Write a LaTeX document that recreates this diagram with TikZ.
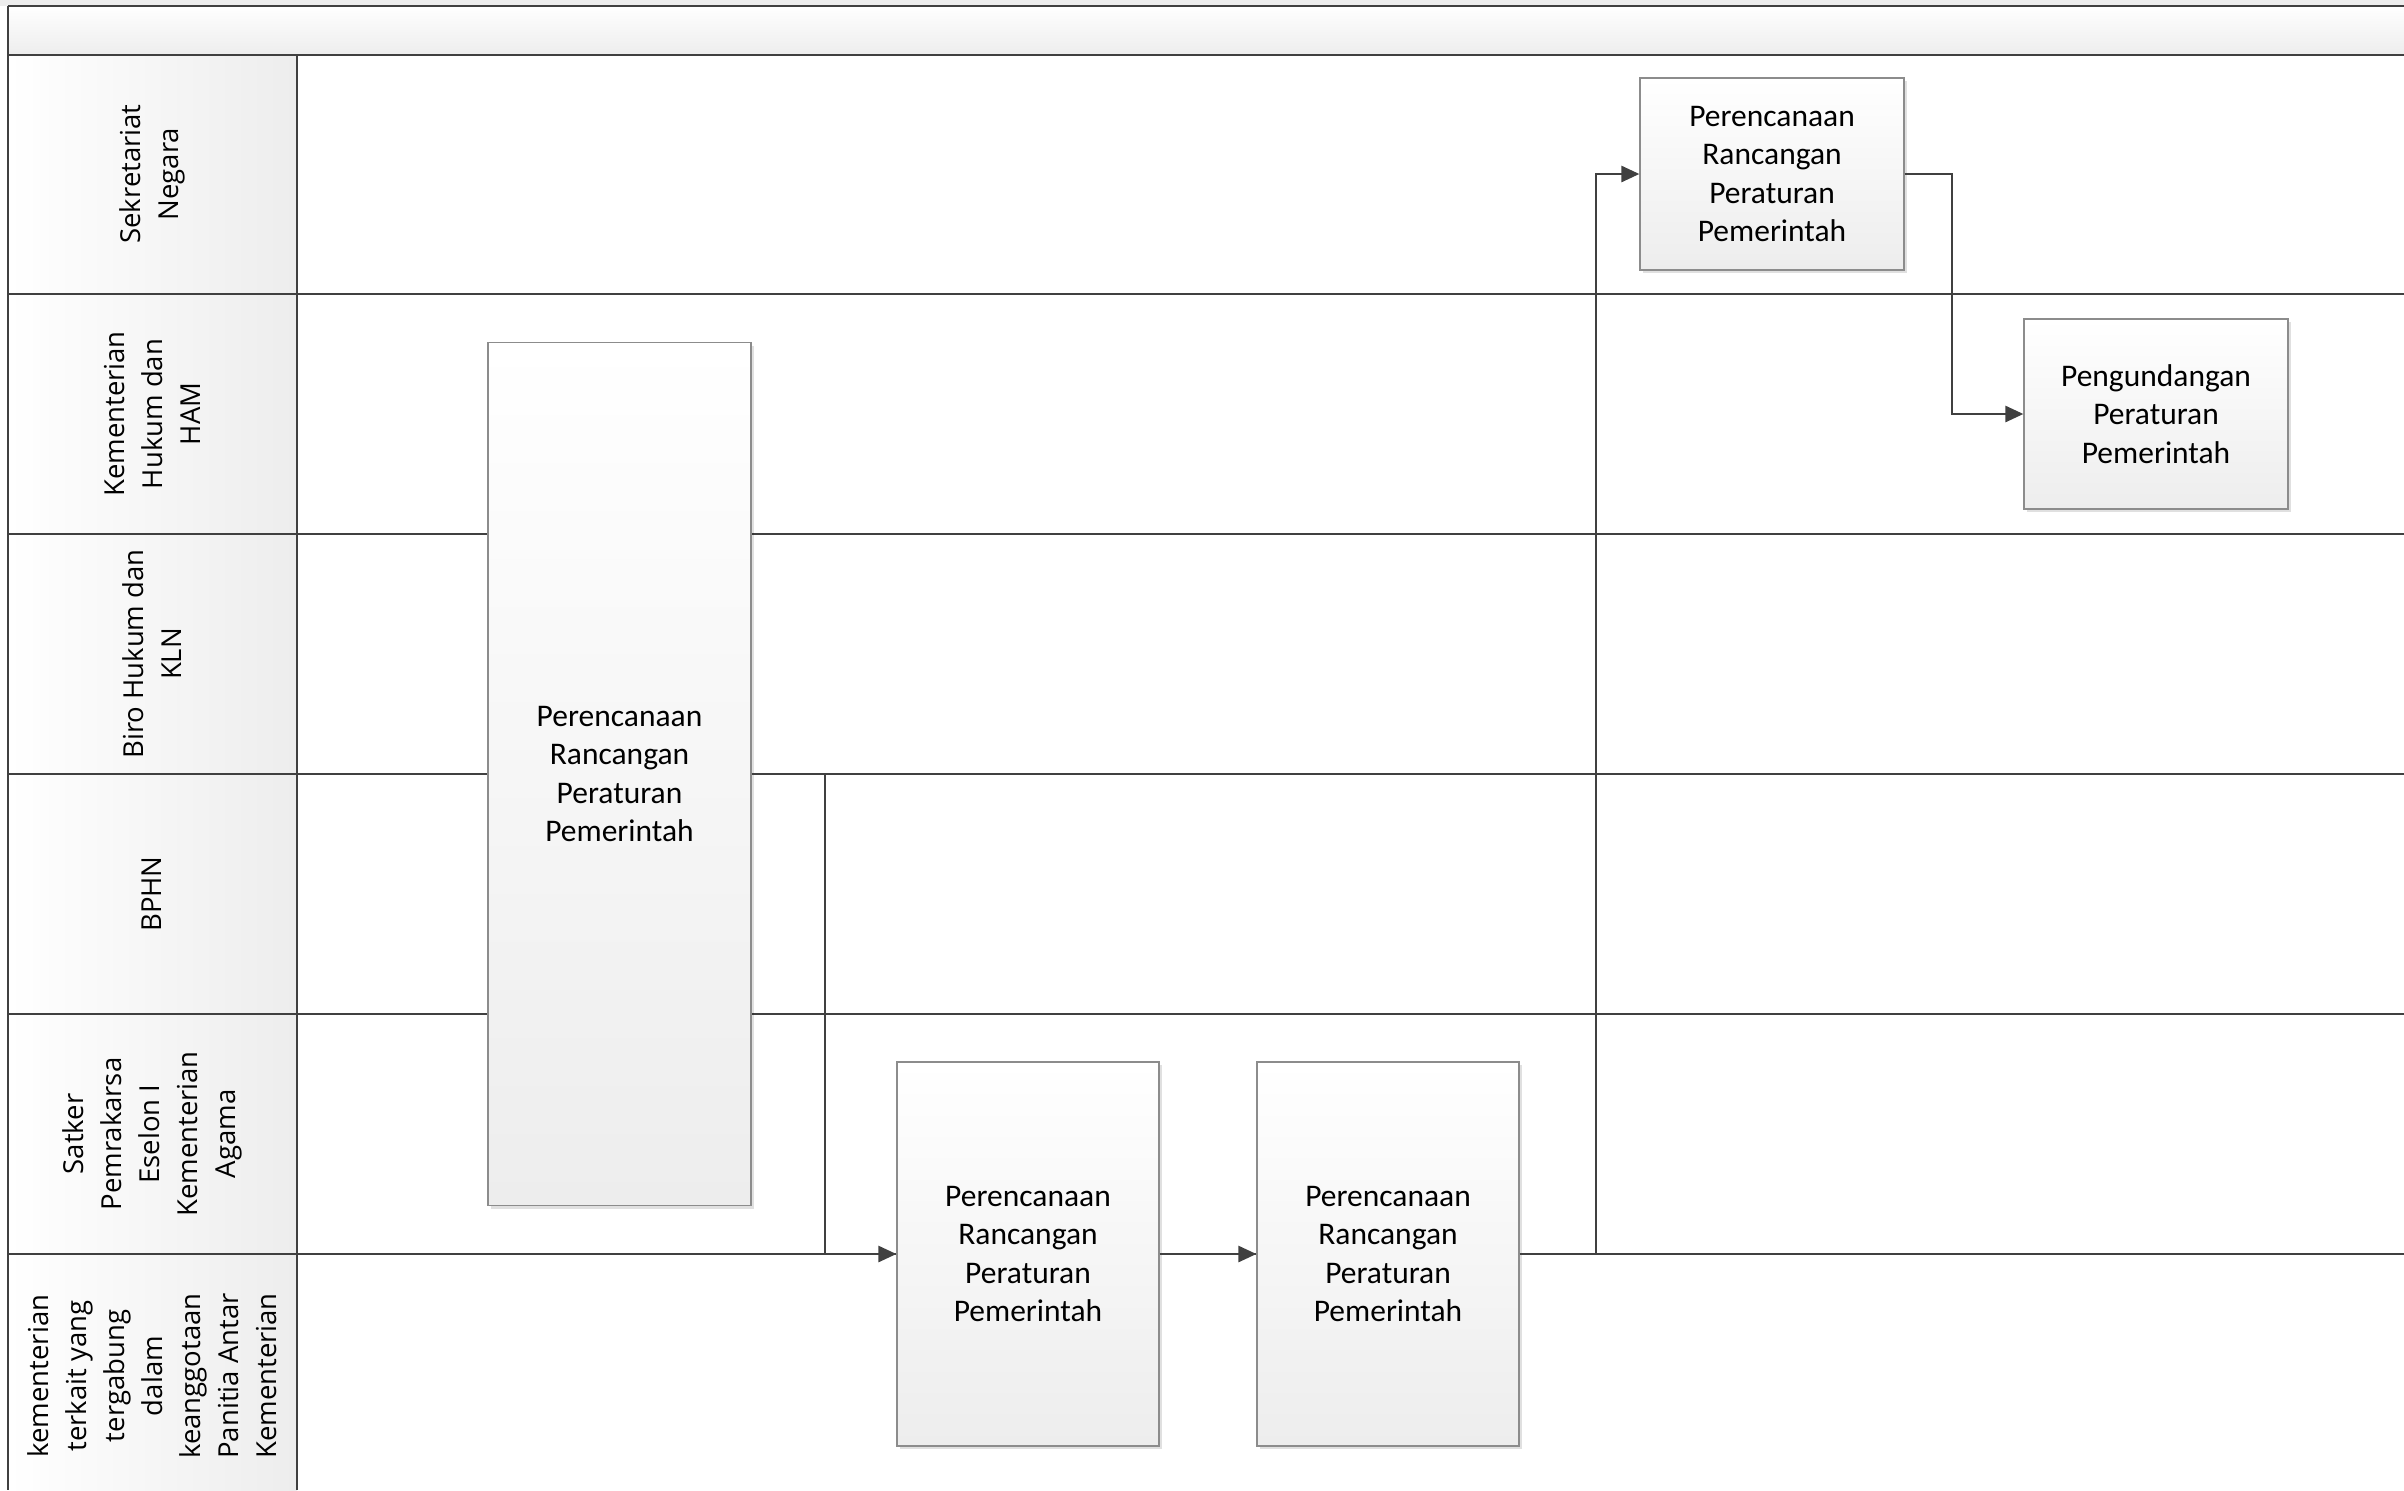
\documentclass[tikz,border=0pt]{standalone}
\usepackage{fontspec}
\newfontfamily\lanefont{Open Sans}
\newfontfamily\boxfont{Carlito}
\usetikzlibrary{arrows.meta,shadows}
\definecolor{linec}{HTML}{404040}
\definecolor{boxb}{HTML}{8C8C8C}
\definecolor{fillg}{HTML}{EDEDED}
\begin{document}
\begin{tikzpicture}[x=0.5pt,y=-0.5pt,
  lane/.style={draw=linec,line width=1.1pt},
  lanelabel/.style={rotate=90,align=center,font=\lanefont\fontsize{13.75pt}{19pt}\selectfont,text=black,inner sep=0pt},
  proc/.style={draw=boxb,line width=0.6pt,top color=white,bottom color=fillg,align=center,
    font=\boxfont\fontsize{15.75pt}{19.2pt}\selectfont,inner sep=0pt,
    drop shadow={shadow xshift=1.5pt,shadow yshift=-1.5pt,fill=black,opacity=0.12}},
  conn/.style={draw=linec,line width=1.3pt,-{Triangle[length=9pt,width=8pt]}}
]
\useasboundingbox (0,0) rectangle (2404,1490);
% backgrounds
\fill[fillg] (0,0) rectangle (2404,6);
\fill[top color=white,bottom color=fillg] (8,6) rectangle (2404,55);
\fill[left color=white,right color=fillg] (8,55) rectangle (297,1490);
% frame and lanes
\draw[lane] (8,6) -- (2404,6);
\draw[lane] (8,6) -- (8,1490);
\draw[lane] (297,55) -- (297,1490);
\foreach \yy in {55,294,534,774,1014,1254}{
  \draw[lane] (8,\yy) -- (2404,\yy);
}
% lane labels
\node[lanelabel] (L1) at (152,174) {Sekretariat\\Negara};
\node[lanelabel] (L2) at (152,414) {Kementerian\\Hukum dan\\HAM};
\node[lanelabel] (L3) at (152,654) {Biro Hukum dan\\KLN};
\node[lanelabel] (L4) at (152,894) {BPHN};
\node[lanelabel] (L5) at (152,1134) {Satker\\Pemrakarsa\\Eselon I\\Kementerian\\Agama};
\node[lanelabel] (L6) at (152,1376) {kementerian\\terkait yang\\tergabung\\dalam\\keanggotaan\\Panitia Antar\\Kementerian};
% process boxes
\node[proc,minimum width=131.5pt,minimum height=431.5pt] (A) at (619.5,774) {Perencanaan\\Rancangan\\Peraturan\\Pemerintah};
\node[proc,minimum width=131pt,minimum height=192pt] (B) at (1028,1254) {Perencanaan\\Rancangan\\Peraturan\\Pemerintah};
\node[proc,minimum width=131pt,minimum height=192pt] (C) at (1388,1254) {Perencanaan\\Rancangan\\Peraturan\\Pemerintah};
\node[proc,minimum width=132pt,minimum height=96pt] (D) at (1772,174) {Perencanaan\\Rancangan\\Peraturan\\Pemerintah};
\node[proc,minimum width=132pt,minimum height=95pt] (E) at (2156,414) {Pengundangan\\Peraturan\\Pemerintah};
% connectors
\coordinate (k1) at (825,774);
\coordinate (k2) at (1596,1254);
\coordinate (k3) at (1952,174);
\draw[conn] (A.east) -- (k1) |- (B.west);
\draw[conn] (B.east) -- (C.west);
\draw[conn] (C.east) -- (k2) |- (D.west);
\draw[conn] (D.east) -- (k3) |- (E.west);
\end{tikzpicture}
\end{document}
